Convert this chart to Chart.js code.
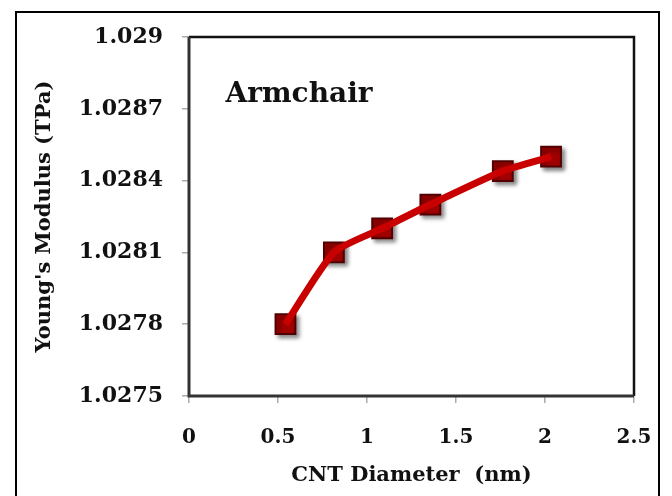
<!DOCTYPE html>
<html>
<head>
    <title>Young's Modulus - Armchair</title>
    <script src="https://cdn.jsdelivr.net/npm/chart.js"></script>
</head>
<body style="margin:0; background:white;">
    <div style="width:672px; height:496px;">
        <canvas id="modChart" width="672" height="496"></canvas>
    </div>

    <script>
        // CNT diameter (nm) and Young's modulus (TPa), armchair tubes
        const diameters = [0.542, 0.814, 1.085, 1.356, 1.763, 2.034];
        const modulus = [1.0278, 1.0281, 1.0282, 1.0283, 1.02844, 1.0285];

        const xTicks = [0, 0.5, 1, 1.5, 2, 2.5];
        const xTickLabels = ["0", "0.5", "1", "1.5", "2", "2.5"];
        const yTicks = [1.0275, 1.0278, 1.0281, 1.0284, 1.0287, 1.029];
        const yTickLabels = ["1.0275", "1.0278", "1.0281", "1.0284", "1.0287", "1.029"];

        const points = diameters.map((d, i) => ({ x: d, y: modulus[i] }));
        const serif = "'DejaVu Serif', 'Liberation Serif', serif";

        // outer frame, plot box and the "Armchair" label
        const decor = {
            id: 'decor',
            beforeDatasetDraw(chart, args) {
                if (args.index === 1) {
                    const ctx = chart.ctx;
                    ctx.save();
                    ctx.shadowColor = 'rgba(0,0,0,0.45)';
                    ctx.shadowBlur = 4;
                    ctx.shadowOffsetX = 3;
                    ctx.shadowOffsetY = 3;
                }
            },
            afterDatasetDraw(chart, args) {
                if (args.index === 1) chart.ctx.restore();
            },
            afterDraw(chart) {
                const ctx = chart.ctx;
                const a = chart.chartArea;
                const xs = chart.scales.x, ys = chart.scales.y;
                ctx.save();
                ctx.strokeStyle = '#000';
                ctx.lineWidth = 2;
                ctx.strokeRect(16, 12, 643, 500);

                ctx.lineWidth = 2.5;
                ctx.strokeStyle = '#111';
                ctx.beginPath();
                ctx.moveTo(a.left, a.top);
                ctx.lineTo(a.right, a.top);
                ctx.lineTo(a.right, a.bottom);
                ctx.stroke();
                ctx.lineWidth = 3;
                ctx.strokeStyle = '#333';
                ctx.beginPath();
                ctx.moveTo(a.left, a.top);
                ctx.lineTo(a.left, a.bottom);
                ctx.lineTo(a.right, a.bottom);
                ctx.stroke();

                ctx.fillStyle = '#111';
                ctx.font = "bold 28px " + serif;
                ctx.textAlign = 'left';
                ctx.textBaseline = 'alphabetic';
                ctx.fillText("Armchair", xs.getPixelForValue(0.205), ys.getPixelForValue(1.02873));
                ctx.restore();
            }
        };

        new Chart(document.getElementById("modChart"), {
            type: 'scatter',
            data: {
                datasets: [
                    {
                        label: 'line',
                        data: points,
                        showLine: true,
                        borderColor: '#c80000',
                        borderWidth: 7,
                        tension: 0.2,
                        pointRadius: 0
                    },
                    {
                        label: 'Armchair',
                        data: points,
                        showLine: false,
                        pointStyle: 'rect',
                        pointRadius: 14,
                        pointHoverRadius: 14,
                        backgroundColor: '#a00000',
                        borderColor: '#500000',
                        borderWidth: 2
                    }
                ]
            },
            options: {
                responsive: false,
                animation: false,
                events: [],
                layout: { padding: { top: 37, right: 38, left: 0, bottom: 0 } },
                plugins: {
                    legend: { display: false },
                    tooltip: { enabled: false }
                },
                scales: {
                    x: {
                        type: 'linear',
                        min: 0,
                        max: 2.5,
                        afterFit: s => { s.height = 100; s.paddingLeft = 0; s.paddingRight = 0; },
                        afterBuildTicks: s => { s.ticks = xTicks.map(v => ({ value: v })); },
                        grid: { drawOnChartArea: false, tickLength: 7, color: '#aaa', lineWidth: 1.5 },
                        border: { display: false },
                        ticks: {
                            padding: 23,
                            color: '#111',
                            font: { family: serif, size: 20, weight: 'bold' },
                            callback: (v, i) => xTickLabels[i]
                        },
                        title: {
                            display: true,
                            text: 'CNT Diameter  (nm)',
                            color: '#111',
                            font: { family: serif, size: 21, weight: 'bold' },
                            padding: { top: 0, bottom: 8 }
                        }
                    },
                    y: {
                        type: 'linear',
                        min: 1.0275,
                        max: 1.029,
                        afterFit: s => { s.width = 189; },
                        afterBuildTicks: s => { s.ticks = yTicks.map(v => ({ value: v })); },
                        grid: { drawOnChartArea: false, tickLength: 7, color: '#aaa', lineWidth: 1.5 },
                        border: { display: false },
                        ticks: {
                            padding: 19,
                            color: '#111',
                            font: { family: serif, size: 22, weight: 'bold' },
                            callback: (v, i) => yTickLabels[i]
                        },
                        title: {
                            display: true,
                            text: "Young's Modulus (TPa)",
                            color: '#111',
                            font: { family: serif, size: 21, weight: 'bold' },
                            padding: { top: 32, bottom: 0 }
                        }
                    }
                }
            },
            plugins: [decor]
        });
    </script>
</body>
</html>
